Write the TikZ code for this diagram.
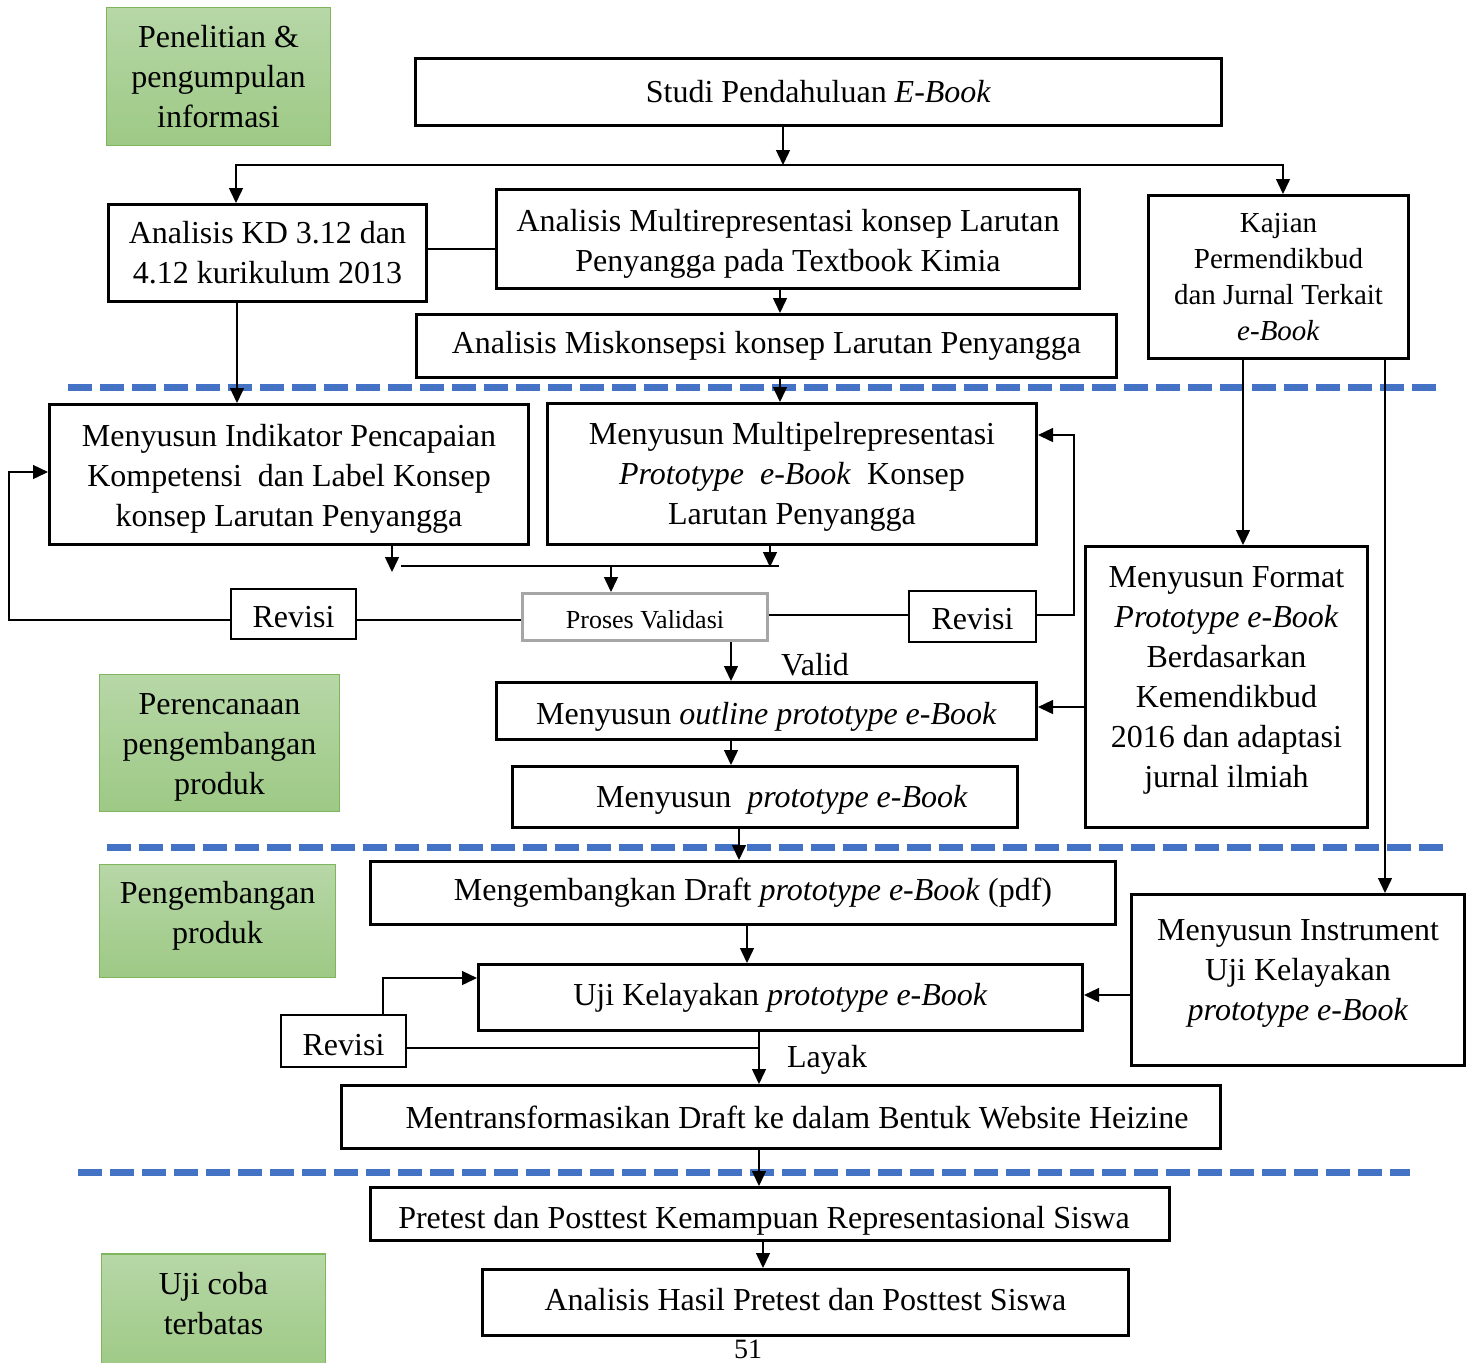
\documentclass[tikz,border=0pt]{standalone}
\usepackage{fontspec}
\setmainfont{Liberation Serif}
\usetikzlibrary{arrows.meta,calc}
\definecolor{dashblue}{RGB}{68,114,196}
\definecolor{gtop}{RGB}{183,215,167}
\definecolor{gbot}{RGB}{157,201,133}
\definecolor{gbord}{RGB}{126,181,93}
\definecolor{pvgray}{RGB}{166,166,166}
\newcommand\dropby[2]{\raisebox{-#1}[\height][\depth]{#2}}
\tikzset{
  base/.style={font=\fontsize{16}{20}\selectfont, inner sep=1pt, align=center},
  bk/.style={base, draw, line width=1.5pt},
  rv/.style={base, draw, line width=0.8pt},
  pv/.style={base, draw=pvgray, line width=1.5pt, font=\fontsize{13}{16}\selectfont},
  gr/.style={base, draw=gbord, line width=0.8pt, top color=gtop, bottom color=gbot},
  ln/.style={line width=0.7pt},
  ar/.style={line width=0.7pt, -{Triangle[length=7.5pt,width=7pt]}},
  bl/.style={draw=dashblue, line width=3.5pt, dash pattern=on 12pt off 4pt},
  lbl/.style={base},
}
\begin{document}
\begin{tikzpicture}[x=0.5pt,y=-0.5pt]
\useasboundingbox (0,0) rectangle (1472,1362);

% blue dashed separators
\coordinate (d1a) at (68,387);   \coordinate (d1b) at (1438,387);
\coordinate (d2a) at (107,847);  \coordinate (d2b) at (1443,847);
\coordinate (d3a) at (78,1172);  \coordinate (d3b) at (1410,1172);
\draw[bl] (d1a) -- (d1b);
\draw[bl] (d2a) -- (d2b);
\draw[bl] (d3a) -- (d3b);

% green phase boxes
\node[gr, minimum width=112pt, minimum height=69pt] (G1) at (218.5,76.5) {Penelitian \&\\pengumpulan\\informasi};
\node[gr, minimum width=120pt, minimum height=68.5pt] (G2) at (219.5,743) {\dropby{1.5pt}{\begin{tabular}{@{}c@{}}Perencanaan\\pengembangan\\produk\end{tabular}}};
\node[gr, minimum width=118pt, minimum height=56.5pt] (G3) at (217.5,921) {\begin{tabular}{@{}c@{}}Pengembangan\\produk\\[6pt]\end{tabular}};
\node[gr, minimum width=112pt, minimum height=59pt] (G4) at (213.5,1313) {};
\node[lbl] (G4t) at (213.5,1304) {Uji coba\\terbatas};

% main boxes
\node[bk, minimum width=403pt, minimum height=33.5pt] (A) at (818.5,92) {Studi Pendahuluan \textit{E-Book}};
\node[bk, minimum width=159pt, minimum height=48.5pt] (B) at (267.5,253) {Analisis KD 3.12 dan\\4.12 kurikulum 2013};
\node[bk, minimum width=291.5pt, minimum height=49.5pt] (C) at (788,239) {\dropby{2pt}{\begin{tabular}{@{}c@{}}Analisis Multirepresentasi konsep Larutan\\Penyangga pada Textbook Kimia\end{tabular}}};
\node[bk, minimum width=350pt, minimum height=31.5pt] (D) at (766.5,346) {Analisis Miskonsepsi konsep Larutan Penyangga};
\node[bk, minimum width=130pt, minimum height=81.5pt, font=\fontsize{14.5}{18}\selectfont] (K) at (1278.5,277) {Kajian\\Permendikbud\\dan Jurnal Terkait\\\textit{e-Book}};
\node[bk, minimum width=239.5pt, minimum height=70pt] (E1) at (289,474.5) {\dropby{2pt}{\begin{tabular}{@{}c@{}}Menyusun Indikator Pencapaian\\Kompetensi\ \ dan Label Konsep\\konsep Larutan Penyangga\end{tabular}}};
\node[bk, minimum width=244.5pt, minimum height=70.5pt] (E2) at (792,474) {\dropby{1pt}{\begin{tabular}{@{}c@{}}Menyusun Multipelrepresentasi\\\textit{Prototype}\ \ \textit{e-Book}\ \ Konsep\\Larutan Penyangga\end{tabular}}};
\node[pv, minimum width=122.5pt, minimum height=23.5pt] (PV) at (645,617) {\dropby{1.5pt}{Proses Validasi}};
\node[rv, minimum width=62.5pt, minimum height=25pt] (RL) at (293.5,614) {\dropby{1.5pt}{Revisi}};
\node[rv, minimum width=63.5pt, minimum height=25.5pt] (RR) at (972.5,616.5) {\dropby{1.5pt}{Revisi}};
\node[bk, minimum width=270pt, minimum height=28.5pt] (F) at (766.5,711) {\dropby{3pt}{Menyusun \textit{outline prototype e-Book}}};
\node[bk, minimum width=252.5pt, minimum height=30.5pt] (G) at (765,797) {\dropby{1.5pt}{\hspace*{17pt}Menyusun\ \ \textit{prototype e-Book}}};
\node[bk, minimum width=141pt, minimum height=140.5pt] (M) at (1226.5,687) {\begin{tabular}{@{}c@{}}Menyusun Format\\\textit{Prototype e-Book}\\Berdasarkan\\Kemendikbud\\2016 dan adaptasi\\jurnal ilmiah\\[8pt]\end{tabular}};
\node[bk, minimum width=372.5pt, minimum height=31.5pt] (H) at (743,893) {\hspace*{10pt}Mengembangkan Draft \textit{prototype e-Book} (pdf)};
\node[bk, minimum width=302pt, minimum height=33pt] (I) at (780.5,997.5) {Uji Kelayakan \textit{prototype e-Book}};
\node[bk, minimum width=166.5pt, minimum height=85.5pt] (N) at (1298,980) {\begin{tabular}{@{}c@{}}Menyusun Instrument\\Uji Kelayakan\\\textit{prototype e-Book}\\[8pt]\end{tabular}};
\node[rv, minimum width=62.5pt, minimum height=26pt] (RB) at (343.5,1041) {\dropby{2pt}{Revisi}};
\node[bk, minimum width=439.5pt, minimum height=31.5pt] (J) at (781,1117) {\hspace*{16pt}Mentransformasikan Draft ke dalam Bentuk Website Heizine};
\node[bk, minimum width=399.5pt, minimum height=26.5pt] (P) at (770,1214) {\dropby{3.5pt}{Pretest dan Posttest Kemampuan Representasional Siswa\hspace*{6pt}}};
\node[bk, minimum width=323pt, minimum height=33pt] (Q) at (805.5,1302.5) {\raisebox{1.5pt}[\height][\depth]{Analisis Hasil Pretest dan Posttest Siswa}};

% labels
\node[lbl] (valid) at (815,665) {Valid};
\node[lbl] (layak) at (827,1060) {Layak};
\node[lbl, font=\fontsize{14}{16}\selectfont, inner sep=0pt] (page) at (748,1349) {51};

% helper coordinates
\coordinate (split) at (783,165);
\coordinate (xB) at (236,0);
\coordinate (xK) at (1283,0);
\coordinate (yBC) at (0,249);
\coordinate (x780) at (780,0);
\coordinate (x237) at (237,0);
\coordinate (j1) at (392,572);
\coordinate (hL) at (401,566);
\coordinate (hR) at (779,566);
\coordinate (j2) at (770,567);
\coordinate (j3) at (611,566);
\coordinate (yL) at (0,620);
\coordinate (lx) at (9,472);
\coordinate (yR) at (0,615);
\coordinate (rx) at (1074,435);
\coordinate (x731) at (731,0);
\coordinate (x1243) at (1243,0);
\coordinate (y707) at (0,707);
\coordinate (x1385) at (1385,0);
\coordinate (x739) at (739,0);
\coordinate (x747) at (747,0);
\coordinate (y995) at (0,995);
\coordinate (rb) at (383,978);
\coordinate (rbe) at (759,1048);
\coordinate (x759) at (759,0);
\coordinate (x763) at (763,0);

% connectors
\draw[ar] (A.south -| split) -- (split);
\draw[ar] (split) -| (B.north -| xB);
\draw[ar] (split) -| (K.north -| xK);
\draw[ln] (B.east |- yBC) -- (C.west |- yBC);
\draw[ar] (C.south -| x780) -- (D.north -| x780);
\draw[ar] (D.south -| x780) -- (E2.north -| x780);
\draw[ar] (B.south -| x237) -- (E1.north -| x237);
\draw[ar] (E1.south -| j1) -- (j1);
\draw[ln] (hL) -- (hR);
\draw[ar] (E2.south -| j2) -- (j2);
\draw[ar] (j3) -- (PV.north -| j3);
\draw[ln] (PV.west |- yL) -- (RL.east |- yL);
\draw[ar] (RL.west |- yL) -| (lx) -- (E1.west |- lx);
\draw[ln] (PV.east |- yR) -- (RR.west |- yR);
\draw[ar] (RR.east |- yR) -| (rx) -- (E2.east |- rx);
\draw[ar] (PV.south -| x731) -- (F.north -| x731);
\draw[ar] (F.south -| x731) -- (G.north -| x731);
\draw[ar] (K.south -| x1243) -- (M.north -| x1243);
\draw[ar] (M.west |- y707) -- (F.east |- y707);
\draw[ar] (K.south -| x1385) -- (N.north -| x1385);
\draw[ar] (G.south -| x739) -- (H.north -| x739);
\draw[ar] (H.south -| x747) -- (I.north -| x747);
\draw[ar] (N.west |- y995) -- (I.east |- y995);
\draw[ar] (RB.north -| rb) |- (I.west |- rb);
\draw[ln] (RB.east |- rbe) -- (rbe);
\draw[ar] (I.south -| x759) -- (J.north -| x759);
\draw[ar] (J.south -| x759) -- (P.north -| x759);
\draw[ar] (P.south -| x763) -- (Q.north -| x763);
\end{tikzpicture}
\end{document}
